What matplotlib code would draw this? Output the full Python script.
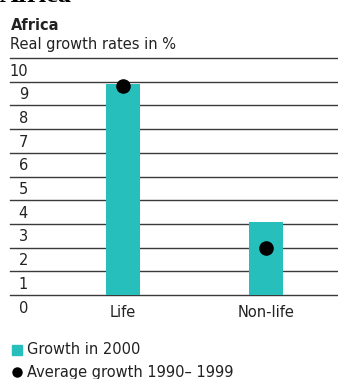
import matplotlib
matplotlib.use("Agg")
import matplotlib.pyplot as plt

categories = ["Life", "Non-life"]
growth_2000 = [8.9, 3.1]
avg_growth_1990_1999 = [8.8, 2.0]
y_ticks = list(range(0, 11))

W, H = 338, 379
DPI = 100
TEAL = "#26bfbc"
GRID = "#3a3a3a"
FONT = "DejaVu Sans"
FS = 10.5

fig = plt.figure(figsize=(W / DPI, H / DPI), dpi=DPI)

def fx(px):
    return px / W

def fy(py):
    return 1 - py / H

# axes: x from 10px to 338px, y value 0 at 295px, 10 at 58px
ax = fig.add_axes([fx(10), fy(295), fx(338) - fx(10), fy(58) - fy(295)])
ax.set_ylim(0, 10)
x0 = 122.5
step = 143.8
ax.set_xlim((10 - x0) / step, (338 - x0) / step)
for s in ax.spines.values():
    s.set_visible(False)
ax.set_xticks([])
ax.set_yticks([])
ax.patch.set_alpha(0)

for t in y_ticks:
    ax.axhline(t, color=GRID, lw=1.0, zorder=1, clip_on=False)

xs = list(range(len(categories)))
ax.bar(xs, growth_2000, width=34 / step, color=TEAL, zorder=2, linewidth=0)
ax.plot(xs, avg_growth_1990_1999, "o", color="black", markersize=10.5, zorder=3,
        markeredgewidth=0)

# tick labels hanging below gridlines
for t in y_ticks:
    ax.annotate(str(t), xy=(0, t), xycoords=("figure fraction", "data"),
                xytext=(28 * 72 / DPI, -4), textcoords="offset points",
                ha="right", va="top", fontsize=FS, family=FONT, color="#222222")

for x, c in zip(xs, categories):
    ax.annotate(c, xy=(x, 0), xycoords="data", xytext=(0, -7.5), textcoords="offset points",
                ha="center", va="top", fontsize=FS, family=FONT, color="#222222")

# titles
fig.text(fx(0), fy(1.5), "Africa", fontsize=19, family="Liberation Serif", weight="bold",
         ha="left", va="baseline", color="black")
fig.text(fx(11), fy(29.5), "Africa", fontsize=FS, family=FONT, weight="bold",
         ha="left", va="baseline", color="#222222")
fig.text(fx(10), fy(49.5), "Real growth rates in %", fontsize=FS, family=FONT,
         ha="left", va="baseline", color="#222222")

# legend
fig.patches.append(plt.Rectangle((fx(12), fy(355)), fx(10), fy(345) - fy(355),
                                 transform=fig.transFigure, color=TEAL, figure=fig))
fig.text(fx(27), fy(350), "Growth in 2000", fontsize=FS, family=FONT,
         ha="left", va="center", color="#222222")
fig.add_artist(plt.Line2D([fx(17)], [fy(371.5)], marker="o", color="black",
                          markersize=7.5, markeredgewidth=0, transform=fig.transFigure))
fig.text(fx(27), fy(372), "Average growth 1990\u2013 1999", fontsize=FS, family=FONT,
         ha="left", va="center", color="#222222")

fig.savefig("out.png", dpi=DPI)
